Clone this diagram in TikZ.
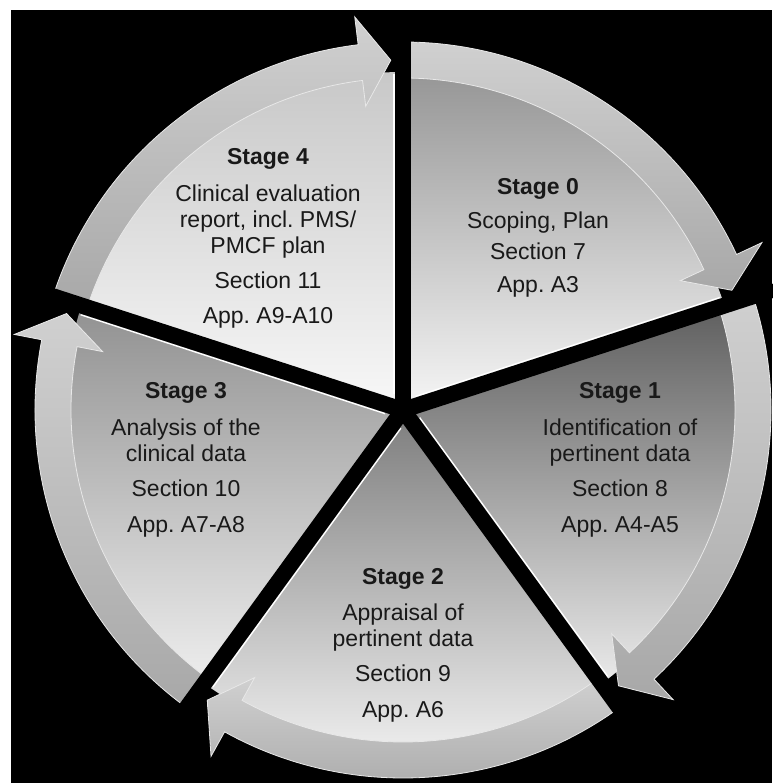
\documentclass[tikz,border=0pt]{standalone}
\usepackage{fontspec}
\setmainfont{Liberation Sans}
\frenchspacing
\definecolor{txt}{RGB}{25,25,25}
\definecolor{w0t}{RGB}{150,150,150}\definecolor{w0b}{RGB}{246,246,246}
\definecolor{w1t}{RGB}{95,95,95}\definecolor{w1b}{RGB}{234,234,234}
\definecolor{w2t}{RGB}{125,125,125}\definecolor{w2b}{RGB}{243,243,243}
\definecolor{w3t}{RGB}{145,145,145}\definecolor{w3b}{RGB}{238,238,238}
\definecolor{w4t}{RGB}{200,200,200}\definecolor{w4b}{RGB}{248,248,248}
\definecolor{bandtop}{RGB}{208,208,208}\definecolor{bandbot}{RGB}{168,168,168}
\definecolor{bandedge}{RGB}{232,232,232}
\begin{document}
\begin{tikzpicture}[x=1pt,y=1pt,
  stagetext/.style={text=txt, align=center, font=\fontsize{23}{26}\selectfont, inner sep=0pt},
  gapline/.style={line width=16pt, black, line cap=round},
  hilite/.style={white, line width=1.4pt},
  band/.style={top color=bandtop, bottom color=bandbot, draw=bandedge, line width=0.8pt}]
\useasboundingbox (0,0) rectangle (772,783);
\fill[white] (0,0) rectangle (772,783);
\fill[black] (11,0) rectangle (772,773);
\def\Ro{368}\def\Ri{332}\def\Rw{338}\def\Rm{350}\def\Rbo{396}\def\Rbi{306}
\begin{scope}[shift={(403,373)}]
  % wedges
  \foreach \s/\g/\ct/\cb in {90/18/w0t/w0b, 18/-54/w1t/w1b, -54/-126/w2t/w2b, -126/-198/w3t/w3b, 162/90/w4t/w4b}{
    \shade[top color=\ct, bottom color=\cb] (0,0) -- (\s:\Rw) arc[start angle=\s, end angle=\g, radius=\Rw] -- cycle;
  }
  % highlights along the clockwise edge of each wedge
  \foreach \g in {18,-54,-126,162,90}{
    \draw[hilite] ([shift={(\g+90:9)}]\g:16) -- ([shift={(\g+90:9)}]\g:336);
  }
  % arrow bands
  \foreach \s/\g in {90/18, 18/-54, -54/-126, -126/-198, 162/90}{
    \shade[band] (\s:\Ro) arc[start angle=\s, end angle=\g+7, radius=\Ro]
      -- (\g+7:\Rbo) -- (\g+2:\Rm) -- (\g+7:\Rbi) -- (\g+7:\Ri)
      arc[start angle=\g+7, end angle=\s, radius=\Ri] -- cycle;
  }
  % gaps
  \foreach \g in {90,18,-54,-126,162}{
    \draw[gapline] (0,0) -- (\g:385);
  }
\end{scope}
\node[stagetext] (s0) at (538,545) {\textbf{Stage 0}\\[8pt] Scoping, Plan\\[5pt] Section 7\\[7pt] App. A3};
\node[stagetext] (s1) at (620,323) {\textbf{Stage 1}\\[11pt] Identification of\\ pertinent data\\[9pt] Section 8\\[10pt] App. A4-A5};
\node[stagetext] (s2) at (403,137.5) {\textbf{Stage 2}\\[10pt] Appraisal of\\ pertinent data\\[9pt] Section 9\\[10pt] App. A6};
\node[stagetext] (s3) at (186,323) {\textbf{Stage 3}\\[11pt] Analysis of the\\ clinical data\\[9pt] Section 10\\[10pt] App. A7-A8};
\node[stagetext] (s4) at (268,544.5) {\textbf{Stage 4}\\[11pt] Clinical evaluation\\ report, incl. PMS/\\ PMCF plan\\[9pt] Section 11\\[9pt] App. A9-A10};
\end{tikzpicture}
\end{document}
